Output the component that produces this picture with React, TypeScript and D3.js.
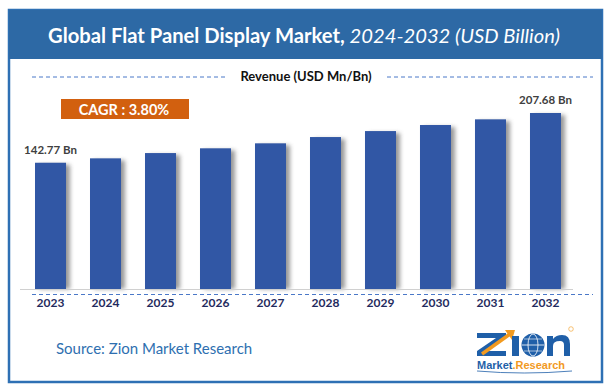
import React from 'react';
import * as d3 from 'd3';

const years = ['2023', '2024', '2025', '2026', '2027', '2028', '2029', '2030', '2031', '2032'];
const revenue = [142.77, 148.5, 155.4, 161.6, 168.1, 176.3, 184.1, 192.0, 199.4, 207.68];
const labelled = ['2023', '2032'];
const cagrText = 'CAGR : 3.80%';

const W = 610;
const H = 391;

export default function App() {
  const x = d3.scaleBand<string>()
    .domain(years)
    .range([35, 561])
    .paddingInner(0.436)
    .paddingOuter(0);

  // the source chart does not start its axis at zero
  const y = d3.scaleLinear()
    .domain([-22, 207.68])
    .range([289, 113]);

  const font = 'Lato, "Open Sans", sans-serif';
  const blue = '#1f5fa8';
  const orange = '#f29a1f';

  return (
    <svg width={W} height={H} style={{ position: 'absolute', left: 0, top: 0, background: '#fff' }}>
      <defs>
        <filter id="shadow" x="-30%" y="-10%" width="160%" height="120%">
          <feGaussianBlur stdDeviation="2" />
        </filter>
      </defs>

      {/* frame + header */}
      <rect x={9} y={10} width={593} height={372} fill="#fff" stroke="#2e70b4" strokeWidth={2.5} />
      <rect x={9} y={10} width={593} height={49} fill="#2d69a5" />
      <text x={304} y={43} textAnchor="middle" fill="#fff" fontFamily={font} fontSize={20.2}>
        <tspan fontWeight="bold">Global Flat Panel Display Market, </tspan>
        <tspan fontStyle="italic">2024-2032 (USD Billion)</tspan>
      </text>

      {/* legend line */}
      <line x1={32} x2={226} y1={77} y2={77} stroke="#4a78c8" strokeDasharray="4,3" strokeWidth={1} />
      <line x1={387} x2={593} y1={77} y2={77} stroke="#4a78c8" strokeDasharray="4,3" strokeWidth={1} />
      <text x={306} y={81} textAnchor="middle" fontFamily={font} fontWeight="bold" fontSize={13} fill="#111">
        Revenue (USD Mn/Bn)
      </text>

      {/* CAGR badge */}
      <rect x={61} y={99} width={128} height={20} fill="#d2600f" />
      <text x={124} y={115} textAnchor="middle" fontFamily={font} fontWeight="bold" fontSize={14.5} fill="#fff">
        {cagrText}
      </text>

      {/* bars */}
      {years.map((yr, i) => (
        <g key={yr}>
          <rect
            x={x(yr)! + 4}
            y={y(revenue[i]) + 2}
            width={x.bandwidth()}
            height={y.range()[0] - y(revenue[i]) - 2}
            fill="#777"
            opacity={0.75}
            filter="url(#shadow)"
          />
          <rect
            x={x(yr)!}
            y={y(revenue[i])}
            width={x.bandwidth()}
            height={y.range()[0] - y(revenue[i])}
            fill="#3157a5"
          />
          {labelled.includes(yr) && (
            <text
              x={x(yr)! + x.bandwidth() / 2}
              y={y(revenue[i]) - 9}
              textAnchor="middle"
              fontFamily={font}
              fontWeight="bold"
              fontSize={11.5}
              fill="#404040"
            >
              {revenue[i].toFixed(2)} Bn
            </text>
          )}
          <text
            x={x(yr)! + x.bandwidth() / 2}
            y={307}
            textAnchor="middle"
            fontFamily={font}
            fontWeight="bold"
            fontSize={12}
            fill="#1f2b5e"
          >
            {yr}
          </text>
        </g>
      ))}

      {/* axis */}
      <line x1={20} x2={573} y1={289.5} y2={289.5} stroke="#d0d0d0" strokeWidth={1} />
      <line x1={32} x2={593} y1={294.5} y2={294.5} stroke="#4a78c8" strokeDasharray="4,3" strokeWidth={1} />

      {/* source */}
      <text x={56} y={354} fontFamily={font} fontSize={15} fill="#2e6fb0">
        Source: Zion Market Research
      </text>

      {/* logo */}
      <g>
        <path d="M477,333 H506 V338 L487,351 H506 V356 H477 V351 L496,338 H477 Z" fill={blue} />
        <path d="M482,354 L510,334" stroke={orange} strokeWidth={3.5} fill="none" />
        <path d="M505,330 L515,330 L512,340 Z" fill={orange} />
        <rect x={512} y={336} width={7} height={20} fill={blue} />
        <circle cx={533} cy={345} r={11.5} fill={blue} />
        <ellipse cx={533} cy={345} rx={5} ry={11} fill="none" stroke="#fff" strokeWidth={0.8} />
        <line x1={522} x2={544} y1={345} y2={345} stroke="#fff" strokeWidth={0.8} />
        <line x1={524} x2={542} y1={339} y2={339} stroke="#fff" strokeWidth={0.6} />
        <line x1={524} x2={542} y1={351} y2={351} stroke="#fff" strokeWidth={0.6} />
        <path
          d="M547,356 V336 H553 V339 Q556,335 562,335 Q570,335 570,344 V356 H564 V345 Q564,341 560,341 Q553,341 553,346 V356 Z"
          fill={blue}
        />
        <circle cx={571} cy={329} r={2.3} fill="none" stroke={orange} strokeWidth={0.6} />
        <text x={477} y={369} fontFamily='"Liberation Sans", Arial, sans-serif' fontWeight="bold" fontSize={11} fill={blue}>
          Market
          <tspan fill={orange}>.Research</tspan>
        </text>
        <path d="M477,371 Q524,375 572,371" stroke={blue} strokeWidth={0.8} fill="none" />
      </g>
    </svg>
  );
}
